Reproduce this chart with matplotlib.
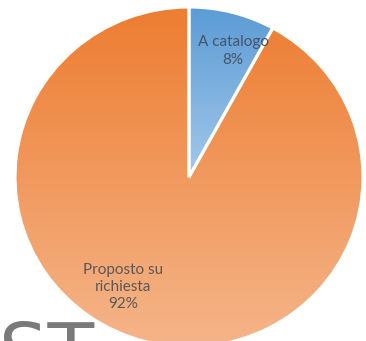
import numpy as np
import matplotlib.pyplot as plt
from matplotlib.colors import LinearSegmentedColormap

plt.rcParams['font.family'] = ['Lato', 'DejaVu Sans']

categorie = ['A catalogo', 'Proposto su richiesta']
percentuali = [8, 92]
etichette = ['A catalogo\n8%', 'Proposto su\nrichiesta\n92%']

# sfumature dall'alto (scuro) al basso (chiaro)
sfumature = [
    ['#5B9BD5', '#A3C8EA'],
    ['#ED7D31', '#F5B58A'],
]

W, H = 366, 341
fig = plt.figure(figsize=(W / 100, H / 100), dpi=100)
ax = fig.add_axes([0, 0, 1, 1])

# torta leggermente schiacciata in verticale
sy = 174 / 170
cx, cy, r = 189, (H - 177) * sy, 174

wedges, _ = ax.pie(percentuali, startangle=90, counterclock=False,
                   center=(cx, cy), radius=r, frame=True,
                   wedgeprops=dict(facecolor='none', edgecolor='none'))

for w, cols in zip(wedges, sfumature):
    cmap = LinearSegmentedColormap.from_list('g', cols)
    grad = np.linspace(0, 1, 256).reshape(-1, 1)
    # estensione verticale dello spicchio
    path = w.get_patch_transform().transform(w.get_path().vertices)
    ytop, ybot = path[:, 1].max(), path[:, 1].min()
    im = ax.imshow(grad, cmap=cmap, aspect='auto',
                   extent=(cx - r, cx + r, ybot, ytop), origin='upper', zorder=1)
    im.set_clip_path(w)

# bordi bianchi tra gli spicchi
for w in wedges:
    w.set_edgecolor('white')
    w.set_linewidth(2.2)
    w.set_zorder(2)


def px(x, y):
    return x / W, 1 - y / H


ax.text(*px(233, 51), etichette[0], transform=ax.transAxes, ha='center',
        va='center', fontsize=11, color='#44546A', linespacing=1.3, zorder=3)
ax.text(*px(123, 287), etichette[1], transform=ax.transAxes, ha='center',
        va='center', fontsize=11, color='#595959', linespacing=1.3, zorder=3)

# titolo tagliato in basso
ax.text(*px(-1, 320), 'ST', transform=ax.transAxes, ha='left', va='top',
        fontsize=55, color='#7A7A7A', family='DejaVu Sans', zorder=4)

ax.set_xlim(0, W)
ax.set_ylim(0, H * sy)
ax.set_aspect('auto')
ax.axis('off')

fig.savefig('out.png', dpi=100)
